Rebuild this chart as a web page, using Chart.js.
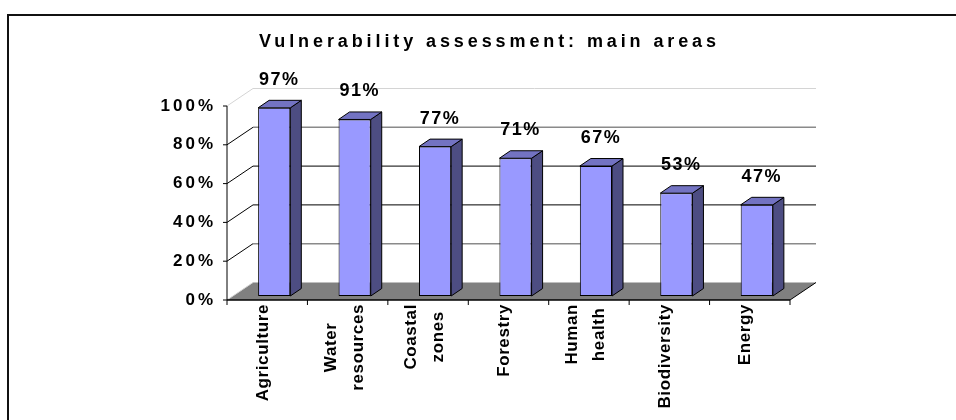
<!DOCTYPE html>
<html>
<head>
<meta charset="utf-8">
<script src="https://cdn.jsdelivr.net/npm/chart.js"></script>
<style>
    body { margin: 0; background: white; overflow: hidden; }
    canvas { display: block; }
</style>
</head>
<body>
<canvas id="grafico-barras" width="956" height="420"></canvas>
<script>
// Dados do gráfico
let titulo = 'Vulnerability assessment: main areas';
let categorias = [['Agriculture'], ['Water', 'resources'], ['Coastal', 'zones'], ['Forestry'], ['Human', 'health'], ['Biodiversity'], ['Energy']];
let valores = [97, 91, 77, 71, 67, 53, 47];
let ticksY = [0, 20, 40, 60, 80, 100];

// Estilo das linhas do fundo (uma por tick)
let corGrade = ['#808080', '#8a8a8a', '#000000', '#000000', '#8a8a8a', '#d4d4d4'];
let larguraGrade = [1, 1.5, 1, 1, 1.5, 1];

const fonte = '"Liberation Sans", Arial, sans-serif';

// Deslocamentos do efeito 3D (em relação ao plano das barras)
const FRENTE_X = -7, FRENTE_Y = 4;
const FUNDO_X = 19, FUNDO_Y = -13.5;
const LADO_X = 11, LADO_Y = 7.5;

function linha(ctx, x1, y1, x2, y2, cor, largura) {
    ctx.beginPath();
    ctx.moveTo(x1, y1);
    ctx.lineTo(x2, y2);
    ctx.strokeStyle = cor;
    ctx.lineWidth = largura || 1;
    ctx.stroke();
}

const efeito3d = {
    id: 'efeito3d',
    beforeDraw: function (chart) {
        const ctx = chart.ctx;
        ctx.save();
        // moldura
        ctx.fillStyle = '#111';
        ctx.fillRect(7, 14, 2, 420);
        ctx.fillRect(7, 14, 956, 2);
        ctx.restore();
        // espaçamento das letras do eixo y
        ctx.letterSpacing = '3px';
    },
    beforeDatasetsDraw: function (chart) {
        const ctx = chart.ctx;
        ctx.letterSpacing = '0px';
        const area = chart.chartArea;
        const escalaY = chart.scales.y;
        const escalaX = chart.scales.x;
        const y0 = escalaY.getPixelForValue(0);
        const esq = area.left, dir = area.right;

        ctx.save();
        // chão
        ctx.fillStyle = '#808080';
        ctx.beginPath();
        ctx.moveTo(esq + FRENTE_X, y0 + FRENTE_Y);
        ctx.lineTo(dir + FRENTE_X, y0 + FRENTE_Y);
        ctx.lineTo(dir + FUNDO_X, y0 + FUNDO_Y);
        ctx.lineTo(esq + FUNDO_X, y0 + FUNDO_Y);
        ctx.closePath();
        ctx.fill();

        // grade do fundo e diagonais da parede lateral
        escalaY.ticks.forEach(function (tick, i) {
            const py = escalaY.getPixelForValue(tick.value);
            if (tick.value > 0) {
                linha(ctx, esq + FUNDO_X, py + FUNDO_Y, dir + FUNDO_X, py + FUNDO_Y, corGrade[i], larguraGrade[i]);
            }
            let corDiag = (i == 0 || i == escalaY.ticks.length - 1) ? '#d4d4d4' : '#000';
            linha(ctx, esq + FRENTE_X, py + FRENTE_Y, esq + FUNDO_X, py + FUNDO_Y, corDiag, 1);
            // marca do eixo y
            linha(ctx, esq + FRENTE_X - 4, py + FRENTE_Y, esq + FRENTE_X, py + FRENTE_Y, '#000', 1);
        });

        // eixo y da frente
        const yTopo = escalaY.getPixelForValue(ticksY[ticksY.length - 1]);
        linha(ctx, esq + FRENTE_X, yTopo + FRENTE_Y, esq + FRENTE_X, y0 + FRENTE_Y, '#000', 1);

        // eixo x da frente e marcas
        linha(ctx, esq + FRENTE_X, y0 + FRENTE_Y, dir + FRENTE_X, y0 + FRENTE_Y, '#000', 1.5);
        for (var i = 0; i <= categorias.length; i++) {
            const px = escalaX.getPixelForValue(i - 0.5) + FRENTE_X;
            linha(ctx, px, y0 + FRENTE_Y, px, y0 + FRENTE_Y + 5, '#000', 1);
        }
        // borda direita do chão
        linha(ctx, dir + FRENTE_X, y0 + FRENTE_Y, dir + FUNDO_X, y0 + FUNDO_Y, '#000', 1);
        ctx.restore();
    },
    afterDatasetsDraw: function (chart) {
        const ctx = chart.ctx;
        const meta = chart.getDatasetMeta(0);
        ctx.save();
        ctx.lineWidth = 1;
        ctx.strokeStyle = '#000';
        meta.data.forEach(function (barra, i) {
            const p = barra.getProps(['x', 'y', 'base', 'width'], true);
            const l = p.x - p.width / 2;
            const r = p.x + p.width / 2;
            // lado
            ctx.fillStyle = '#4d4d82';
            ctx.beginPath();
            ctx.moveTo(r, p.y);
            ctx.lineTo(r + LADO_X, p.y - LADO_Y);
            ctx.lineTo(r + LADO_X, p.base - LADO_Y);
            ctx.lineTo(r, p.base);
            ctx.closePath();
            ctx.fill();
            ctx.stroke();
            // topo
            ctx.fillStyle = '#7373c2';
            ctx.beginPath();
            ctx.moveTo(l, p.y);
            ctx.lineTo(l + LADO_X, p.y - LADO_Y);
            ctx.lineTo(r + LADO_X, p.y - LADO_Y);
            ctx.lineTo(r, p.y);
            ctx.closePath();
            ctx.fill();
            ctx.stroke();

            // rótulo do valor
            ctx.fillStyle = '#000';
            ctx.font = 'bold 18px ' + fonte;
            ctx.letterSpacing = '1.5px';
            ctx.textAlign = 'center';
            ctx.textBaseline = 'middle';
            ctx.fillText(valores[i] + '%', p.x + 5, p.y - 28);
        });
        ctx.restore();
    },
    afterDraw: function (chart) {
        const ctx = chart.ctx;
        const escalaX = chart.scales.x;
        const y0 = chart.scales.y.getPixelForValue(0);
        ctx.save();
        ctx.fillStyle = '#000';

        // título
        ctx.font = 'bold 18px ' + fonte;
        ctx.letterSpacing = '3.9px';
        ctx.textAlign = 'center';
        ctx.textBaseline = 'middle';
        ctx.fillText(titulo, 489.5, 42);

        // rótulos das categorias (girados)
        ctx.font = 'bold 17px ' + fonte;
        ctx.letterSpacing = '0.6px';
        categorias.forEach(function (linhas, i) {
            const cx = escalaX.getPixelForValue(i) + FRENTE_X - 4;
            let maior = 0;
            linhas.forEach(function (t) {
                maior = Math.max(maior, ctx.measureText(t).width);
            });
            linhas.forEach(function (t, j) {
                const lx = cx + (j - (linhas.length - 1) / 2) * 27 + (linhas.length > 1 ? 1 : 0);
                ctx.save();
                ctx.translate(lx, y0 + FRENTE_Y + 4 + maior / 2);
                ctx.rotate(-Math.PI / 2);
                ctx.fillText(t, 0, 0);
                ctx.restore();
            });
        });
        ctx.restore();
    }
};

const ctx = document.getElementById('grafico-barras');
new Chart(ctx, {
    type: 'bar',
    data: {
        labels: categorias,
        datasets: [{
            data: valores,
            backgroundColor: '#9999ff',
            borderColor: '#000',
            borderWidth: 1,
            borderSkipped: false,
            barPercentage: 0.4,
            categoryPercentage: 1
        }]
    },
    options: {
        responsive: false,
        animation: false,
        devicePixelRatio: 1,
        layout: {
            padding: { left: 0, top: 102, right: 159, bottom: 124 }
        },
        scales: {
            x: {
                display: false
            },
            y: {
                min: ticksY[0],
                max: ticksY[ticksY.length - 1],
                afterFit: function (scale) {
                    scale.width = 234;
                },
                grid: { display: false, drawTicks: false },
                border: { display: false },
                ticks: {
                    stepSize: ticksY[1] - ticksY[0],
                    padding: 18,
                    labelOffset: 4,
                    color: '#000',
                    font: { size: 17, weight: 'bold', family: fonte },
                    callback: function (v) { return v + '%'; }
                }
            }
        },
        plugins: {
            legend: { display: false },
            tooltip: { enabled: false }
        }
    },
    plugins: [efeito3d]
});
</script>
</body>
</html>
